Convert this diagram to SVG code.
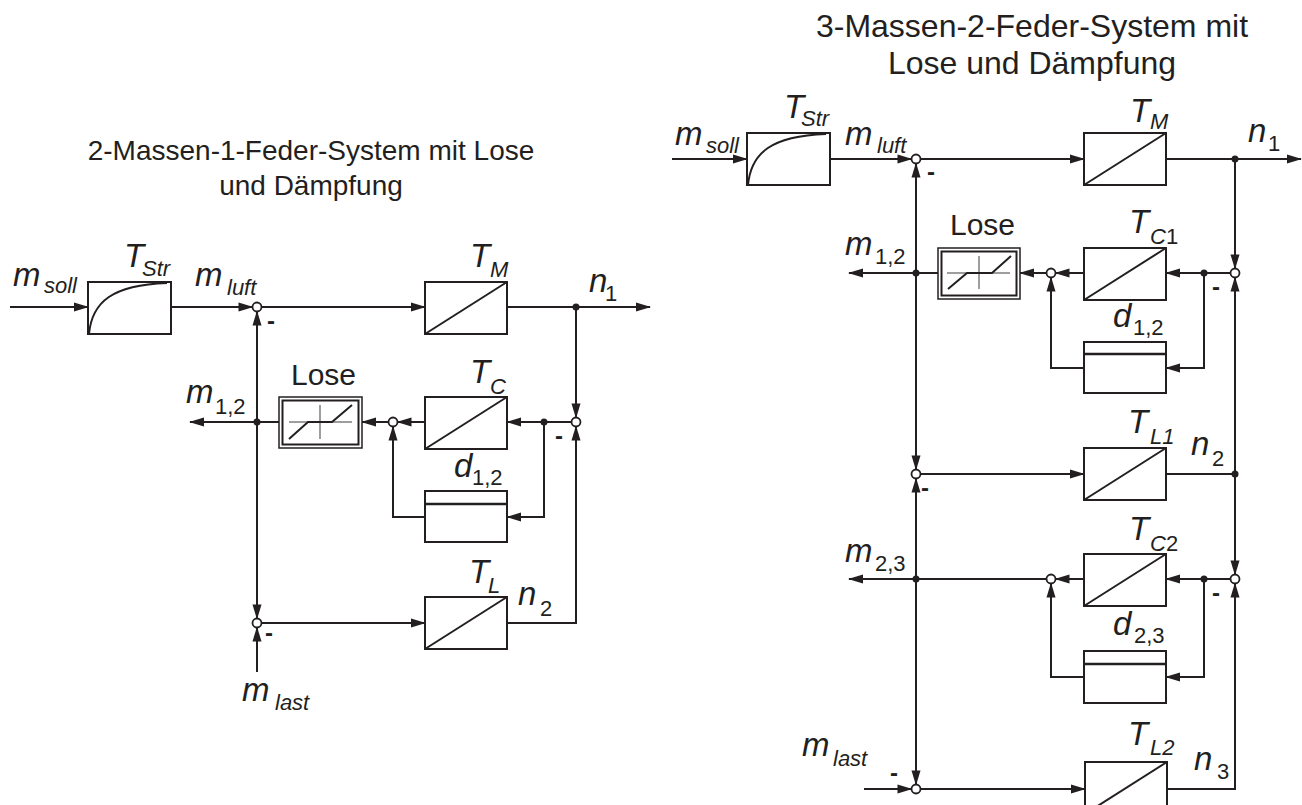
<svg xmlns="http://www.w3.org/2000/svg" width="1302" height="805" viewBox="0 0 1302 805">
<style>
.ln{fill:none;stroke:#231f20;stroke-width:2}
.bx{fill:#fff;stroke:#231f20;stroke-width:2}
.bo{fill:#fff;stroke:#231f20;stroke-width:1.5}
.sj{fill:#fff;stroke:#231f20;stroke-width:1.8}
.dot{fill:#231f20}
.gr{stroke:#7f7f7f;stroke-width:1.5;fill:none}
.dz{stroke:#231f20;stroke-width:2;fill:none}
text{font-family:"Liberation Sans",Arial,sans-serif;fill:#231f20}
.v{font-style:italic;font-size:33px}
.s{font-style:normal;font-size:22px}
.si{font-style:italic;font-size:22px}
.t{font-size:30px}
.ti{font-size:28px;text-anchor:middle}
.tr{font-size:32px;text-anchor:middle}
.mn{font-size:24px;font-weight:bold}
</style>
<defs>
<marker id="ar" markerUnits="userSpaceOnUse" markerWidth="17" markerHeight="10" viewBox="-15 -5 17 10" refX="0" refY="0" orient="auto"><path d="M1,0 L-14,-4.5 L-14,4.5 Z" fill="#231f20"/></marker>
</defs>

<!-- Titles -->
<g id="title-left">
<text class="ti" x="311" y="160">2-Massen-1-Feder-System mit Lose</text>
<text class="ti" x="311" y="195">und Dämpfung</text>
</g>
<g id="title-right">
<text class="tr" x="1032" y="37">3-Massen-2-Feder-System mit</text>
<text class="tr" x="1032" y="74">Lose und Dämpfung</text>
</g>

<!-- Connectors -->
<g id="connectors" class="ln">
<!-- left diagram -->
<path d="M10,307 H88" marker-end="url(#ar)"/>
<path d="M171,307 H252.5" marker-end="url(#ar)"/>
<path d="M261.5,307 H425" marker-end="url(#ar)"/>
<path d="M507,307 H650" marker-end="url(#ar)"/>
<path d="M576,307 V417.5" marker-end="url(#ar)"/>
<path d="M571.5,422 H507" marker-end="url(#ar)"/>
<path d="M544,422 V517 H507" marker-end="url(#ar)"/>
<path d="M425,422 H397.5" marker-end="url(#ar)"/>
<path d="M425,517 H393 V426.5" marker-end="url(#ar)"/>
<path d="M388.5,422 H362" marker-end="url(#ar)"/>
<path d="M279,422 H190" marker-end="url(#ar)"/>
<path d="M257,422 V311.5" marker-end="url(#ar)"/>
<path d="M257,422 V618.5" marker-end="url(#ar)"/>
<path d="M257,672 V627.5" marker-end="url(#ar)"/>
<path d="M261.5,623 H425" marker-end="url(#ar)"/>
<path d="M507,623 H576 V426.5" marker-end="url(#ar)"/>
<!-- right diagram -->
<path d="M672,159 H747" marker-end="url(#ar)"/>
<path d="M830,159 H911.5" marker-end="url(#ar)"/>
<path d="M920.5,159 H1084" marker-end="url(#ar)"/>
<path d="M1166,159 H1301" marker-end="url(#ar)"/>
<path d="M1235,159 V268.5" marker-end="url(#ar)"/>
<path d="M1230.5,273 H1166" marker-end="url(#ar)"/>
<path d="M1204,273 V368 H1166" marker-end="url(#ar)"/>
<path d="M1084,273 H1055.5" marker-end="url(#ar)"/>
<path d="M1084,368 H1051 V277.5" marker-end="url(#ar)"/>
<path d="M1046.5,273 H1020" marker-end="url(#ar)"/>
<path d="M938,273 H849" marker-end="url(#ar)"/>
<path d="M916,273 V163.5" marker-end="url(#ar)"/>
<path d="M916,273 V469.5" marker-end="url(#ar)"/>
<path d="M920.5,474 H1084" marker-end="url(#ar)"/>
<path d="M1166,474 H1235"/>
<path d="M1235,474 V277.5" marker-end="url(#ar)"/>
<path d="M1235,474 V574.5" marker-end="url(#ar)"/>
<path d="M1230.5,579 H1166" marker-end="url(#ar)"/>
<path d="M1204,579 V677 H1166" marker-end="url(#ar)"/>
<path d="M1084,579 H1055.5" marker-end="url(#ar)"/>
<path d="M1084,677 H1051 V583.5" marker-end="url(#ar)"/>
<path d="M1046.5,579 H849" marker-end="url(#ar)"/>
<path d="M916,579 V478.5" marker-end="url(#ar)"/>
<path d="M916,579 V784.5" marker-end="url(#ar)"/>
<path d="M864,789 H911.5" marker-end="url(#ar)"/>
<path d="M920.5,789 H1085" marker-end="url(#ar)"/>
<path d="M1167,789 H1235 V583.5" marker-end="url(#ar)"/>
</g>

<!-- ===== Left diagram nodes ===== -->
<g id="L-Tstr">
<rect class="bx" x="88" y="282" width="83" height="52"/>
<path class="ln" d="M89,334 C92,302 112,285 167,283"/>
<text class="v" x="124" y="267">T<tspan class="si" x="142" y="276">Str</tspan></text>
</g>
<g id="L-msoll"><text class="v" x="13" y="286">m<tspan class="si" x="44" y="293">soll</tspan></text></g>
<g id="L-mluft"><text class="v" x="195" y="286">m<tspan class="si" x="227" y="295">luft</tspan></text></g>
<g id="L-sum1"><circle class="sj" cx="257" cy="307" r="4.5"/><text class="mn" x="267" y="329">-</text></g>
<g id="L-TM">
<rect class="bx" x="425" y="282" width="82" height="52"/>
<path class="ln" d="M425,334 L507,282"/>
<text class="v" x="470" y="267">T<tspan class="si" x="490" y="277">M</tspan></text>
</g>
<g id="L-n1"><circle class="dot" cx="576" cy="307" r="3.5"/><text class="v" x="589" y="292">n<tspan class="s" x="605" y="301">1</tspan></text></g>
<g id="L-sum2"><circle class="sj" cx="576" cy="422" r="4.5"/><text class="mn" x="555" y="444">-</text></g>
<g id="L-dot2"><circle class="dot" cx="544" cy="422" r="3.5"/></g>
<g id="L-TC">
<rect class="bx" x="425" y="397" width="82" height="52"/>
<path class="ln" d="M425,449 L507,397"/>
<text class="v" x="470" y="383">T<tspan class="si" x="490" y="394">C</tspan></text>
</g>
<g id="L-d12">
<rect class="bx" x="425" y="491" width="82" height="51"/>
<path class="ln" d="M425,504 H507" style="stroke-width:2.5"/>
<text class="v" x="454" y="477">d<tspan class="s" x="472" y="485">1,2</tspan></text>
</g>
<g id="L-sum3"><circle class="sj" cx="393" cy="422" r="4.5"/></g>
<g id="L-Lose">
<rect class="bo" x="279" y="397" width="83" height="51"/>
<rect class="bx" x="282.5" y="400.5" width="76" height="44"/>
<path class="gr" d="M289,422 H352 M320,405 V439"/>
<path class="dz" d="M289,439 L308,422 H332 L352,405"/>
<text class="t" x="291" y="385">Lose</text>
</g>
<g id="L-m12"><circle class="dot" cx="257" cy="422" r="3.5"/><text class="v" x="186" y="403">m<tspan class="s" x="215" y="414">1,2</tspan></text></g>
<g id="L-sum4"><circle class="sj" cx="257" cy="623" r="4.5"/><text class="mn" x="265" y="641">-</text></g>
<g id="L-mlast"><text class="v" x="242" y="701">m<tspan class="si" x="275" y="710">last</tspan></text></g>
<g id="L-TL">
<rect class="bx" x="425" y="597" width="82" height="52"/>
<path class="ln" d="M425,649 L507,597"/>
<text class="v" x="469" y="583">T<tspan class="si" x="488" y="593">L</tspan></text>
</g>
<g id="L-n2"><text class="v" x="518" y="605">n<tspan class="s" x="540" y="616">2</tspan></text></g>

<!-- ===== Right diagram nodes ===== -->
<g id="R-Tstr">
<rect class="bx" x="747" y="133" width="83" height="52"/>
<path class="ln" d="M748,185 C751,153 771,136 826,134"/>
<text class="v" x="784" y="118">T<tspan class="si" x="801" y="126">Str</tspan></text>
</g>
<g id="R-msoll"><text class="v" x="675" y="145">m<tspan class="si" x="706" y="153">soll</tspan></text></g>
<g id="R-mluft"><text class="v" x="845" y="145">m<tspan class="si" x="877" y="153">luft</tspan></text></g>
<g id="R-sum1"><circle class="sj" cx="916" cy="159" r="4.5"/><text class="mn" x="927" y="180">-</text></g>
<g id="R-TM">
<rect class="bx" x="1084" y="133" width="82" height="52"/>
<path class="ln" d="M1084,185 L1166,133"/>
<text class="v" x="1130" y="122">T<tspan class="si" x="1150" y="129">M</tspan></text>
</g>
<g id="R-n1"><circle class="dot" cx="1235" cy="159" r="3.5"/><text class="v" x="1248" y="142">n<tspan class="s" x="1268" y="151">1</tspan></text></g>
<g id="R-sum2"><circle class="sj" cx="1235" cy="273" r="4.5"/><text class="mn" x="1212" y="295">-</text></g>
<g id="R-dot2"><circle class="dot" cx="1204" cy="273" r="3.5"/></g>
<g id="R-TC1">
<rect class="bx" x="1084" y="248" width="82" height="52"/>
<path class="ln" d="M1084,300 L1166,248"/>
<text class="v" x="1129" y="233">T<tspan class="si" x="1150" y="244">C</tspan><tspan class="s">1</tspan></text>
</g>
<g id="R-d12">
<rect class="bx" x="1084" y="342" width="82" height="51"/>
<path class="ln" d="M1084,354 H1166" style="stroke-width:2.5"/>
<text class="v" x="1113" y="327">d<tspan class="s" x="1133" y="335">1,2</tspan></text>
</g>
<g id="R-sum3"><circle class="sj" cx="1051" cy="273" r="4.5"/></g>
<g id="R-Lose">
<rect class="bo" x="938" y="248" width="82" height="51"/>
<rect class="bx" x="941.5" y="251.5" width="75" height="44"/>
<path class="gr" d="M947,273 H1010 M979,256 V289"/>
<path class="dz" d="M948,289 L967,273 H992 L1011,256"/>
<text class="t" x="950" y="235">Lose</text>
</g>
<g id="R-m12"><circle class="dot" cx="916" cy="273" r="3.5"/><text class="v" x="845" y="255">m<tspan class="s" x="875" y="264">1,2</tspan></text></g>
<g id="R-sum4"><circle class="sj" cx="916" cy="474" r="4.5"/><text class="mn" x="921" y="496">-</text></g>
<g id="R-TL1">
<rect class="bx" x="1084" y="448" width="82" height="52"/>
<path class="ln" d="M1084,500 L1166,448"/>
<text class="v" x="1128" y="433">T<tspan class="si" x="1150" y="444">L1</tspan></text>
</g>
<g id="R-n2"><circle class="dot" cx="1235" cy="474" r="3.5"/><text class="v" x="1191" y="455">n<tspan class="s" x="1212" y="466">2</tspan></text></g>
<g id="R-sum5"><circle class="sj" cx="1235" cy="579" r="4.5"/><text class="mn" x="1212" y="601">-</text></g>
<g id="R-dot5"><circle class="dot" cx="1204" cy="579" r="3.5"/></g>
<g id="R-TC2">
<rect class="bx" x="1084" y="554" width="82" height="52"/>
<path class="ln" d="M1084,606 L1166,554"/>
<text class="v" x="1129" y="540">T<tspan class="si" x="1150" y="551">C</tspan><tspan class="s">2</tspan></text>
</g>
<g id="R-d23">
<rect class="bx" x="1084" y="651" width="82" height="52"/>
<path class="ln" d="M1084,664 H1166" style="stroke-width:2.5"/>
<text class="v" x="1113" y="635">d<tspan class="s" x="1134" y="643">2,3</tspan></text>
</g>
<g id="R-sum6"><circle class="sj" cx="1051" cy="579" r="4.5"/></g>
<g id="R-m23"><circle class="dot" cx="916" cy="579" r="3.5"/><text class="v" x="845" y="562">m<tspan class="s" x="875" y="571">2,3</tspan></text></g>
<g id="R-sum7"><circle class="sj" cx="916" cy="789" r="4.5"/><text class="mn" x="890" y="781">-</text></g>
<g id="R-mlast"><text class="v" x="802" y="756">m<tspan class="si" x="833" y="766">last</tspan></text></g>
<g id="R-TL2">
<rect class="bx" x="1085" y="762" width="82" height="52"/>
<path class="ln" d="M1085,814 L1167,762"/>
<text class="v" x="1128" y="745">T<tspan class="si" x="1150" y="755">L2</tspan></text>
</g>
<g id="R-n3"><text class="v" x="1194" y="770">n<tspan class="s" x="1217" y="779">3</tspan></text></g>
</svg>
